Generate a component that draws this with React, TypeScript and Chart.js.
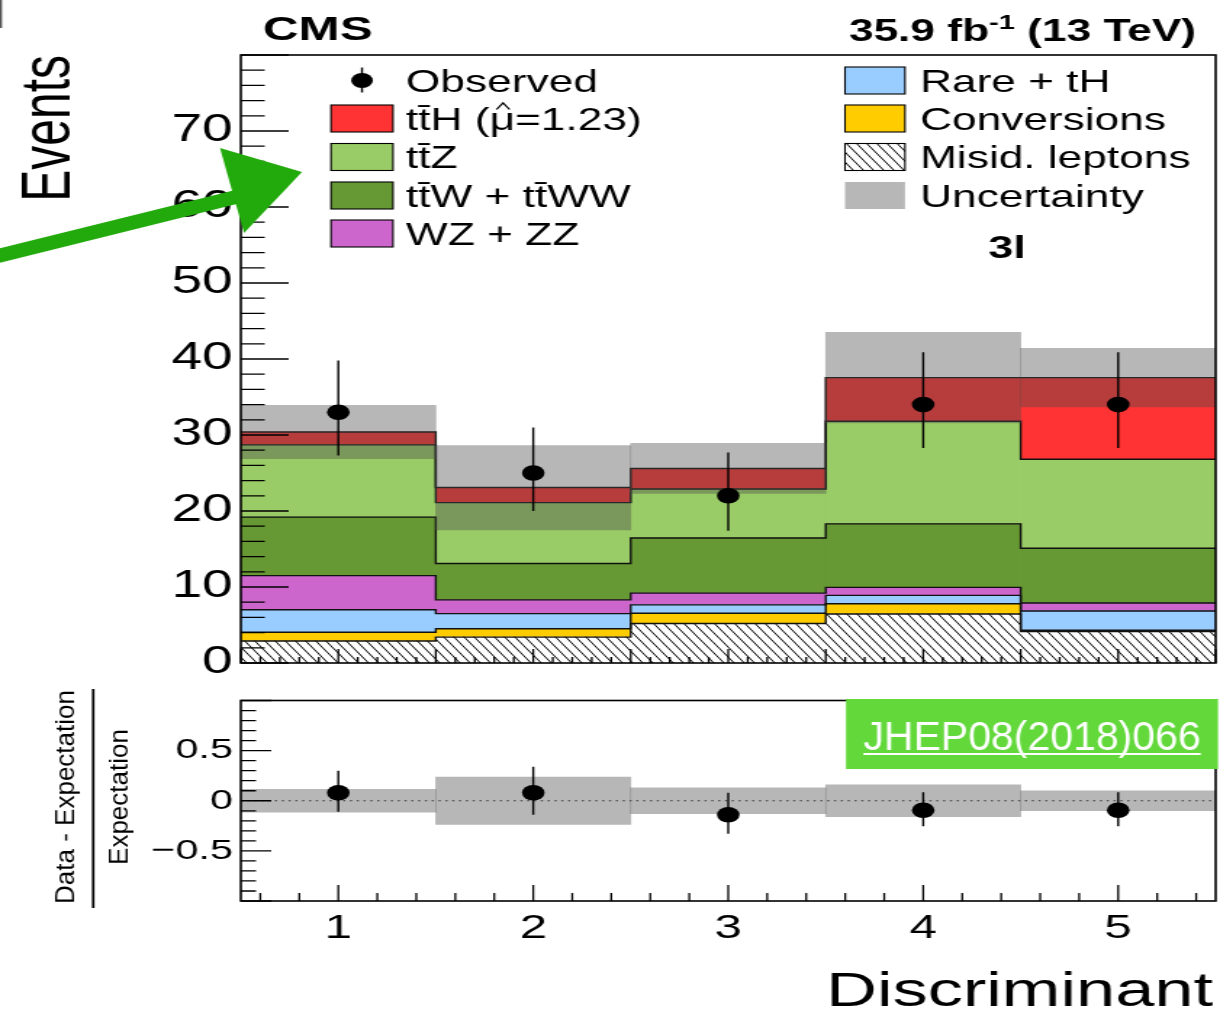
import React, { useEffect, useRef } from 'react';
import { Chart, registerables } from 'chart.js';

Chart.register(...registerables);

// ---------------- data ----------------
const bins = ['1', '2', '3', '4', '5'];
const misid = [2.9, 3.4, 5.2, 6.45, 4.15];
const conversions = [1.15, 1.1, 1.35, 1.35, 0.15];
const rareTH = [2.95, 2.0, 1.1, 1.1, 2.55];
const wzZZ = [4.5, 1.8, 1.55, 1.05, 1.05];
const ttW = [7.7, 4.8, 7.25, 8.35, 7.2];
const ttZ = [9.5, 8.0, 6.45, 13.5, 11.7];
const ttH = [1.7, 2.0, 2.7, 5.75, 10.75];
const uncLow = [26.9, 17.5, 22.3, 31.6, 33.7];
const uncHigh = [33.9, 28.6, 28.9, 43.5, 41.4];
const observed = [33, 25, 22, 34, 34];
const obsHigh = [39.8, 31.0, 27.7, 40.9, 40.9];
const obsLow = [27.3, 20.0, 17.4, 28.3, 28.3];
const ratioObs = [0.08, 0.08, -0.14, -0.095, -0.095];
const ratioHigh = [0.30, 0.34, 0.08, 0.086, 0.086];
const ratioLow = [-0.11, -0.14, -0.33, -0.255, -0.255];
const ratioUnc = [0.115, 0.235, 0.13, 0.16, 0.10];
const mainYTicks = [0, 10, 20, 30, 40, 50, 60, 70];
const ratioYTicks = [-0.5, 0, 0.5];
const ratioYLabels = ['\u22120.5', '0', '0.5'];
const legendLeft = ['Observed', 'tt\u0304H (', 'tt\u0304Z', 'tt\u0304W + tt\u0304WW', 'WZ + ZZ'];
const legendRight = ['Rare + tH', 'Conversions', 'Misid. leptons', 'Uncertainty'];

// ---------------- styling / layout ----------------
const FONT = '"Liberation Sans", Arial, Helvetica, sans-serif';
const W = 841;
const SX = 1220 / W; // the reference is stretched horizontally
const H1 = 680;
const H2 = 331;
const TOP2 = 680;
const PLOT_L = 166;
const PLOT_R = 838;
const BAND = 'rgba(74,74,74,0.4)';
const C_TTH = '#ff3333';
const C_TTZ = '#99cc66';
const C_TTW = '#669933';
const C_WZ = '#cc66cc';
const C_RARE = '#99ccff';
const C_CONV = '#ffcc00';
const rx = (x: number) => x / SX;

function makeHatch(): CanvasPattern | string {
  const c = document.createElement('canvas');
  const w = 7, h = 10;
  c.width = w; c.height = h;
  const g = c.getContext('2d');
  if (!g) return '#fff';
  g.fillStyle = '#fff';
  g.fillRect(0, 0, w, h);
  g.strokeStyle = '#000';
  g.lineWidth = 1;
  for (const o of [-1, 0, 1]) {
    g.beginPath();
    g.moveTo(o * w, 0);
    g.lineTo(o * w + w, h);
    g.stroke();
  }
  return g.createPattern(c, 'repeat') || '#fff';
}

type Tk = { v: number; len: number };
function buildTicks(from: number, to: number, div: number, majorEvery: number, major: number, minor: number): Tk[] {
  const out: Tk[] = [];
  for (let k = from; k <= to; k++) out.push({ v: k / div, len: k % majorEvery === 0 ? major : minor });
  return out;
}

function drawFrameTicks(chart: any, yT: Tk[], xT: Tk[]) {
  const ctx = chart.ctx as CanvasRenderingContext2D;
  const a = chart.chartArea;
  const xs = chart.scales.x;
  const ys = chart.scales.y;
  ctx.save();
  ctx.strokeStyle = '#000';
  ctx.lineWidth = 1.3;
  ctx.beginPath();
  for (const t of yT) {
    const y = ys.getPixelForValue(t.v);
    ctx.moveTo(a.left, y);
    ctx.lineTo(a.left + t.len, y);
  }
  for (const t of xT) {
    const x = xs.getPixelForValue(t.v - 1);
    ctx.moveTo(x, a.bottom);
    ctx.lineTo(x, a.bottom - t.len);
  }
  ctx.stroke();
  ctx.lineWidth = 1.6;
  ctx.strokeRect(a.left, a.top, a.right - a.left, a.bottom - a.top);
  ctx.restore();
}

function drawYLabels(chart: any, values: number[], labels: string[], size: number) {
  const ctx = chart.ctx as CanvasRenderingContext2D;
  const ys = chart.scales.y;
  const a = chart.chartArea;
  ctx.save();
  ctx.fillStyle = '#000';
  ctx.font = `${size}px ${FONT}`;
  ctx.textAlign = 'right';
  ctx.textBaseline = 'middle';
  values.forEach((v, i) => ctx.fillText(labels[i], a.left - 5.5, ys.getPixelForValue(v)));
  ctx.restore();
}

function drawErrorBars(chart: any, hi: number[], lo: number[]) {
  const ctx = chart.ctx as CanvasRenderingContext2D;
  const ys = chart.scales.y;
  const meta = chart.getDatasetMeta(0);
  ctx.save();
  ctx.strokeStyle = '#000';
  ctx.lineWidth = 1.4;
  ctx.beginPath();
  meta.data.forEach((el: any, i: number) => {
    ctx.moveTo(el.x, ys.getPixelForValue(hi[i]));
    ctx.lineTo(el.x, ys.getPixelForValue(lo[i]));
  });
  ctx.stroke();
  ctx.restore();
}

export default function App() {
  const mainRef = useRef<HTMLCanvasElement>(null);
  const ratioRef = useRef<HTMLCanvasElement>(null);

  useEffect(() => {
    document.body.style.margin = '0';
    Chart.defaults.font.family = FONT;
    const hatch = makeHatch();

    const mainYT = buildTicks(0, 40, 0.5, 5, 33, 16.5);
    const mainXT = buildTicks(5, 55, 10, 5, 14, 6);
    const ratioYT = buildTicks(-10, 10, 10, 5, 21, 10.5);
    const ratioXT = buildTicks(3, 27, 5, 5, 16, 8);

    const stack = [
      { label: 'Misid. leptons', data: misid, bg: hatch },
      { label: 'Conversions', data: conversions, bg: C_CONV },
      { label: 'Rare + tH', data: rareTH, bg: C_RARE },
      { label: 'WZ + ZZ', data: wzZZ, bg: C_WZ },
      { label: 'ttW + ttWW', data: ttW, bg: C_TTW },
      { label: 'ttZ', data: ttZ, bg: C_TTZ },
      { label: 'ttH', data: ttH, bg: C_TTH },
    ];

    const mainPlugin = {
      id: 'mainDecor',
      beforeDatasetDraw(chart: any, args: any) {
        const ctx = chart.ctx as CanvasRenderingContext2D;
        if (args.index === 1) {
          // histogram outlines (step lines) from the bar elements
          ctx.save();
          ctx.strokeStyle = '#111';
          ctx.lineWidth = 1.4;
          for (let k = 2; k < chart.data.datasets.length; k++) {
            const meta = chart.getDatasetMeta(k);
            ctx.beginPath();
            meta.data.forEach((el: any, i: number) => {
              const p = el.getProps(['x', 'y', 'width'], true);
              const l = p.x - p.width / 2, r = p.x + p.width / 2;
              if (i === 0) ctx.moveTo(l, p.y); else ctx.lineTo(l, p.y);
              ctx.lineTo(r, p.y);
            });
            ctx.stroke();
          }
          ctx.restore();
        }
        if (args.index === 0) drawErrorBars(chart, obsHigh, obsLow);
      },
      afterDraw(chart: any) {
        const ctx = chart.ctx as CanvasRenderingContext2D;
        drawFrameTicks(chart, mainYT, mainXT);
        drawYLabels(chart, mainYTicks, mainYTicks.map(String), 38);
        ctx.save();
        ctx.fillStyle = '#000';
        ctx.strokeStyle = '#000';
        // CMS
        ctx.font = `bold 34px ${FONT}`;
        ctx.textAlign = 'left';
        ctx.textBaseline = 'alphabetic';
        ctx.fillText('CMS', rx(263), 40);
        // lumi
        const right = rx(1196);
        ctx.font = `bold 30.5px ${FONT}`;
        const p2 = ' (13 TeV)';
        const w2 = ctx.measureText(p2).width;
        ctx.textAlign = 'left';
        ctx.fillText(p2, right - w2, 41);
        ctx.font = `bold 20px ${FONT}`;
        const ws = ctx.measureText('-1').width;
        ctx.fillText('-1', right - w2 - ws, 29);
        ctx.font = `bold 30.5px ${FONT}`;
        ctx.textAlign = 'right';
        ctx.fillText('35.9 fb', right - w2 - ws, 41);
        // 3l
        ctx.font = `bold 31px ${FONT}`;
        ctx.textAlign = 'center';
        ctx.fillText('3l', rx(1007), 258);
        // Events
        ctx.save();
        ctx.font = `48px ${FONT}`;
        ctx.translate(rx(70), 55);
        ctx.rotate(-Math.PI / 2);
        ctx.textAlign = 'right';
        ctx.fillText('Events', 0, 0);
        ctx.restore();

        // legend
        const rows = [80.5, 118.5, 157, 195.5, 233.5];
        ctx.font = `30.5px ${FONT}`;
        ctx.textAlign = 'left';
        const swatch = (x0: number, x1: number, cy: number, fill: any, border: boolean) => {
          const x = rx(x0), w = rx(x1) - rx(x0);
          ctx.fillStyle = '#fff';
          ctx.fillRect(x, cy - 13.5, w, 27);
          ctx.fillStyle = fill;
          ctx.fillRect(x, cy - 13.5, w, 27);
          if (border) {
            ctx.lineWidth = 1.1;
            ctx.strokeStyle = '#000';
            ctx.strokeRect(x, cy - 13.5, w, 27);
          }
          ctx.fillStyle = '#000';
        };
        // observed marker
        const ox = rx(362);
        ctx.beginPath();
        ctx.arc(ox, rows[0], 7.5, 0, Math.PI * 2);
        ctx.fill();
        ctx.lineWidth = 1.4;
        ctx.beginPath();
        ctx.moveTo(ox, rows[0] - 13);
        ctx.lineTo(ox, rows[0] + 12);
        ctx.stroke();
        const leftFills = [C_TTH, C_TTZ, C_TTW, C_WZ];
        leftFills.forEach((f, i) => swatch(331, 393, rows[i + 1], f, true));
        const tx = rx(406);
        legendLeft.forEach((t, i) => ctx.fillText(t, tx, rows[i] + 11));
        // mu-hat part of the ttH entry
        {
          const base = rows[1] + 11;
          const x0 = tx + ctx.measureText(legendLeft[1]).width;
          const mw = ctx.measureText('\u03bc').width;
          ctx.fillText('\u03bc', x0, base);
          ctx.fillText('=1.23)', x0 + mw, base);
          const cx = x0 + mw / 2 + 0.5;
          ctx.lineWidth = 1.3;
          ctx.beginPath();
          ctx.moveTo(cx - 4.5, base - 20);
          ctx.lineTo(cx, base - 26.5);
          ctx.lineTo(cx + 4.5, base - 20);
          ctx.stroke();
        }
        swatch(845, 905, rows[0], C_RARE, true);
        swatch(845, 905, rows[1], C_CONV, true);
        swatch(845, 905, rows[2], hatch, true);
        swatch(845, 905, rows[3], BAND, false);
        legendRight.forEach((t, i) => ctx.fillText(t, rx(920), rows[i] + 11));

        // annotation overlay (drawn in unstretched reference pixels)
        ctx.save();
        ctx.scale(1 / SX, 1);
        ctx.fillStyle = '#555';
        ctx.fillRect(0, 0, 2, 28);
        ctx.strokeStyle = '#22aa0c';
        ctx.fillStyle = '#22aa0c';
        ctx.lineWidth = 14;
        ctx.lineCap = 'round';
        ctx.beginPath();
        ctx.moveTo(-6, 257);
        ctx.lineTo(240, 196);
        ctx.stroke();
        ctx.beginPath();
        ctx.moveTo(220, 148);
        ctx.lineTo(302, 172);
        ctx.lineTo(244, 233);
        ctx.closePath();
        ctx.fill();
        ctx.restore();
        ctx.restore();
      },
    };

    const c1 = new Chart(mainRef.current as HTMLCanvasElement, {
      type: 'bar',
      data: {
        labels: bins,
        datasets: [
          {
            type: 'line', label: 'Observed', data: observed, showLine: false, stack: 'obs', order: 0,
            pointRadius: 7.8, pointHoverRadius: 7.8, pointBackgroundColor: '#000', pointBorderColor: '#000', pointBorderWidth: 0,
          } as any,
          {
            type: 'bar', label: 'Uncertainty', data: uncLow.map((l, i) => [l, uncHigh[i]]), stack: 'unc', order: 1,
            grouped: false, backgroundColor: BAND, borderWidth: 0, barPercentage: 1, categoryPercentage: 1,
          } as any,
          ...stack.map((s) => ({
            type: 'bar', label: s.label, data: s.data, stack: 'mc', order: 2,
            backgroundColor: s.bg, borderWidth: 0, barPercentage: 1, categoryPercentage: 1,
          } as any)),
        ],
      },
      options: {
        responsive: false,
        animation: false,
        events: [],
        layout: { autoPadding: false, padding: { top: 55, bottom: H1 - 663, left: PLOT_L, right: W - PLOT_R } },
        plugins: { legend: { display: false }, tooltip: { enabled: false } },
        scales: {
          x: { type: 'category', display: false, stacked: true, offset: true },
          y: { type: 'linear', display: false, stacked: true, min: 0, max: 80 },
        },
      } as any,
      plugins: [mainPlugin],
    });

    const ratioPlugin = {
      id: 'ratioDecor',
      beforeDatasetDraw(chart: any, args: any) {
        if (args.index !== 0) return;
        const ctx = chart.ctx as CanvasRenderingContext2D;
        const a = chart.chartArea;
        const y0 = chart.scales.y.getPixelForValue(0);
        ctx.save();
        ctx.strokeStyle = '#333';
        ctx.lineWidth = 1.2;
        ctx.setLineDash([1.5, 3.2]);
        ctx.beginPath();
        ctx.moveTo(a.left, y0);
        ctx.lineTo(a.right, y0);
        ctx.stroke();
        ctx.restore();
        drawErrorBars(chart, ratioHigh, ratioLow);
      },
      afterDraw(chart: any) {
        const ctx = chart.ctx as CanvasRenderingContext2D;
        const a = chart.chartArea;
        drawFrameTicks(chart, ratioYT, ratioXT);
        drawYLabels(chart, ratioYTicks, ratioYLabels, 28.5);
        ctx.save();
        ctx.fillStyle = '#000';
        // x tick labels
        ctx.font = `34px ${FONT}`;
        ctx.textAlign = 'center';
        ctx.textBaseline = 'middle';
        const xs = chart.scales.x;
        bins.forEach((b, i) => ctx.fillText(b, xs.getPixelForValue(i), a.bottom + 27.4));
        // x title
        ctx.font = `48.5px ${FONT}`;
        ctx.textAlign = 'right';
        ctx.textBaseline = 'alphabetic';
        ctx.fillText('Discriminant', rx(1213), 1006 - TOP2);
        // y title + JHEP box in reference pixels
        ctx.save();
        ctx.scale(1 / SX, 1);
        ctx.font = `26px ${FONT}`;
        ctx.textAlign = 'center';
        ctx.save();
        ctx.translate(74, 797 - TOP2);
        ctx.rotate(-Math.PI / 2);
        ctx.fillText('Data - Expectation', 0, 0);
        ctx.restore();
        ctx.fillRect(92, 689 - TOP2, 2.5, 219);
        ctx.save();
        ctx.translate(128, 797 - TOP2);
        ctx.rotate(-Math.PI / 2);
        ctx.fillText('Expectation', 0, 0);
        ctx.restore();
        ctx.fillStyle = '#62d83a';
        ctx.fillRect(846, 699 - TOP2, 372, 70);
        ctx.fillStyle = '#fff';
        ctx.font = `41px ${FONT}`;
        ctx.textAlign = 'center';
        const t = 'JHEP08(2018)066';
        const tw = ctx.measureText(t).width;
        ctx.fillText(t, 1032, 750 - TOP2);
        ctx.fillRect(1032 - tw / 2, 753 - TOP2, tw, 2);
        ctx.restore();
        ctx.restore();
      },
    };

    const c2 = new Chart(ratioRef.current as HTMLCanvasElement, {
      type: 'bar',
      data: {
        labels: bins,
        datasets: [
          {
            type: 'line', label: 'ratio', data: ratioObs, showLine: false, order: 0,
            pointRadius: 7.8, pointHoverRadius: 7.8, pointBackgroundColor: '#000', pointBorderColor: '#000', pointBorderWidth: 0,
          } as any,
          {
            type: 'bar', label: 'unc', data: ratioUnc.map((e) => [-e, e]), order: 1,
            backgroundColor: BAND, borderWidth: 0, barPercentage: 1, categoryPercentage: 1,
          } as any,
        ],
      },
      options: {
        responsive: false,
        animation: false,
        events: [],
        layout: { autoPadding: false, padding: { top: 20.5, bottom: H2 - 221, left: PLOT_L, right: W - PLOT_R } },
        plugins: { legend: { display: false }, tooltip: { enabled: false } },
        scales: {
          x: { type: 'category', display: false, offset: true },
          y: { type: 'linear', display: false, min: -1, max: 1 },
        },
      } as any,
      plugins: [ratioPlugin],
    });

    return () => {
      c1.destroy();
      c2.destroy();
    };
  }, []);

  return (
    <div style={{ position: 'relative', width: 1220, height: 1011, background: '#fff' }}>
      <canvas
        ref={mainRef}
        width={W}
        height={H1}
        style={{ position: 'absolute', left: 0, top: 0, width: 1220, height: H1 }}
      />
      <canvas
        ref={ratioRef}
        width={W}
        height={H2}
        style={{ position: 'absolute', left: 0, top: TOP2, width: 1220, height: H2 }}
      />
    </div>
  );
}
